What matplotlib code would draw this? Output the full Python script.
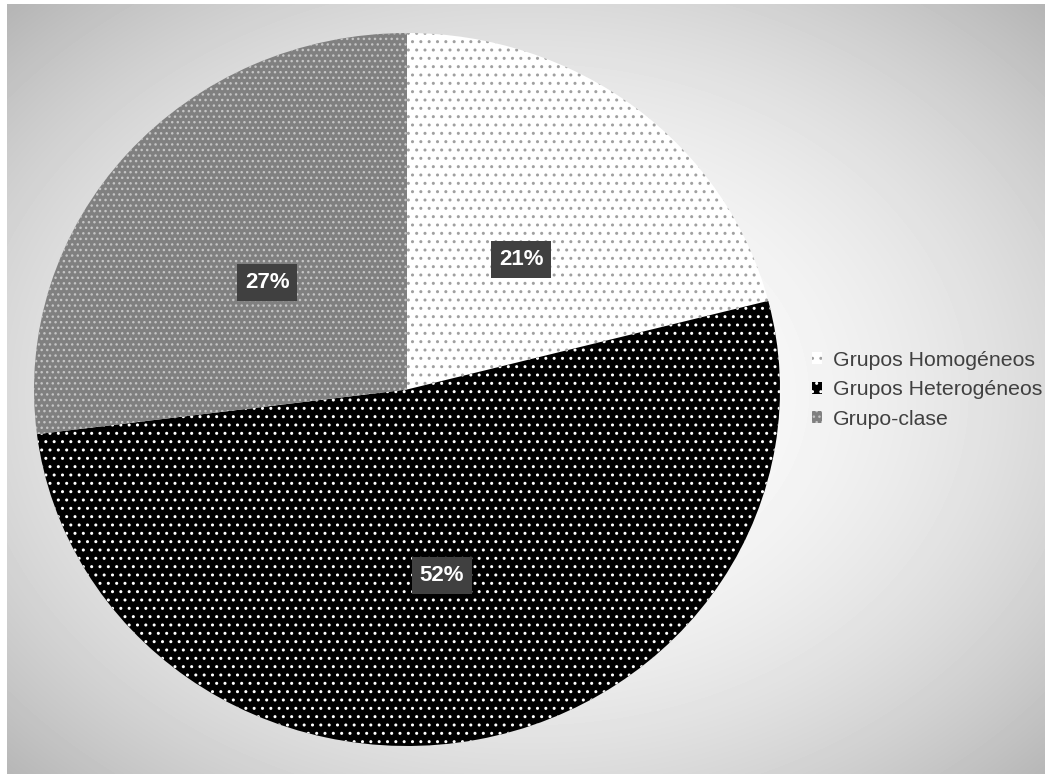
import numpy as np
import matplotlib.pyplot as plt
from matplotlib.patches import Patch

categorias = ['Grupos Homogéneos', 'Grupos Heterogéneos', 'Grupo-clase']
porcentajes = [21, 52, 27]
colores = ['#ffffff', '#000000', '#808080']
colores_trama = ['#a0a0a0', '#ffffff', '#c4c4c4']
tramas = ['..', '..', '...']

plt.rcParams['font.family'] = ['Liberation Sans', 'DejaVu Sans']

fig = plt.figure(figsize=(10.45, 7.74), dpi=100)
fig.patch.set_facecolor('white')

# fondo con degradado radial
fondo = fig.add_axes([7 / 1045, 0, 1 - 7 / 1045, 1 - 4 / 774], zorder=0)
yy, xx = np.mgrid[0:770, 0:1038]
r = np.hypot((xx - 520) / 560, (yy - 390) / 420)
grad = 1 - 0.17 * np.clip(r, 0, 1.3) ** 2
fondo.imshow(grad, cmap='gray', vmin=0, vmax=1, aspect='auto', interpolation='bilinear')
fondo.set_axis_off()

ax = fig.add_axes([34 / 1045, 28 / 774, 746 / 1045, 713 / 774], zorder=1)
ax.patch.set_alpha(0)
cunas, textos, autotextos = ax.pie(
    porcentajes, startangle=90, counterclock=False, colors=colores,
    autopct='%d%%', pctdistance=0.5, radius=1,
    wedgeprops=dict(linewidth=0))
for cuna, trama, ct in zip(cunas, tramas, colores_trama):
    cuna.set_hatch(trama)
    cuna.set_edgecolor(ct)
for t in autotextos:
    x, y = t.get_position()
    t.set_position((x, y - 0.03))
    t.set_color('white')
    t.set_fontsize(16)
    t.set_fontweight('bold')
    t.set_bbox(dict(boxstyle='square,pad=0.35', facecolor='#404040', edgecolor='none'))
ax.set_aspect('auto')
ax.set_xlim(-1, 1)
ax.set_ylim(-1, 1)

manejadores = [Patch(facecolor=c, edgecolor=ct, hatch=h, linewidth=0)
               for c, ct, h in zip(colores, colores_trama, tramas)]
leg = fig.legend(manejadores, categorias, loc='upper left',
                 bbox_to_anchor=(801 / 1045, 1 - 340 / 774), frameon=False,
                 fontsize=15.3, handlelength=0.5, handleheight=0.5,
                 handletextpad=0.5, labelspacing=0.5, borderpad=0)
for t in leg.get_texts():
    t.set_color('#404040')

fig.savefig('out.png', dpi=100)
